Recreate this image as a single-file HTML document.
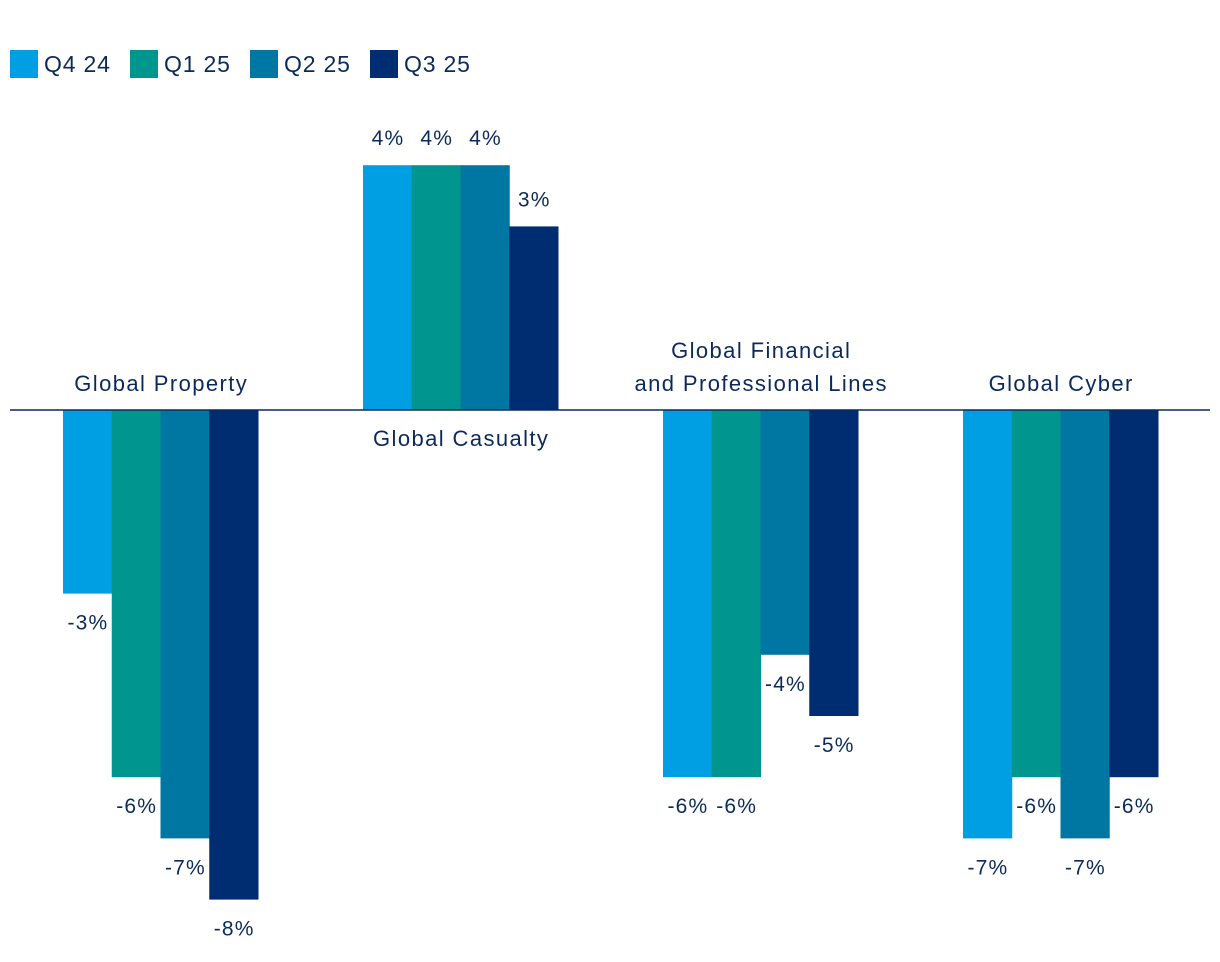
<!DOCTYPE html>
<html><head><meta charset="utf-8"><style>
html,body{margin:0;padding:0;background:#fff;}
svg{display:block;font-family:"Liberation Sans",sans-serif;}
</style></head><body>
<svg id="chart" width="1220" height="962" viewBox="0 0 1220 962"></svg>
<script>
const categories = [["Global Property"],["Global Casualty"],["Global Financial","and Professional Lines"],["Global Cyber"]];
const seriesNames = ["Q4 24","Q1 25","Q2 25","Q3 25"];
const q424 = [-3,4,-6,-7];
const q125 = [-6,4,-6,-6];
const q225 = [-7,4,-4,-7];
const q325 = [-8,3,-5,-6];
const colors = ["#009fe3","#00968f","#0076a3","#002d72"];
const series = [q424,q125,q225,q325];
const NS="http://www.w3.org/2000/svg";
const svg=document.getElementById('chart');
const ink="#0b2a5b";
const zeroY=410, perUnit=61.2;
const y=v=>zeroY - v*perUnit;
const groupX=i=>63 + i*300;
const barW=48.75;
function mk(t,a){const e=document.createElementNS(NS,t);for(const k in a)e.setAttribute(k,a[k]);svg.appendChild(e);return e;}
// legend
seriesNames.forEach((n,i)=>{
  const r=mk('rect',{x:10+i*120,y:50,width:28,height:28,fill:colors[i]});
  
  
  const t=mk('text',{x:44+i*120,y:72,'font-size':23,fill:ink,'letter-spacing':0.8});
  t.textContent=n;
  
  
});
// bars
series.forEach((s,si)=>{
  s.forEach((v,ci)=>{
    const x=groupX(ci)+si*barW;
    const top=Math.min(y(v),zeroY), h=Math.abs(y(v)-zeroY);
    const r=mk('rect',{x:x,y:top,width:barW+0.5,height:h,fill:colors[si]});
    
    
    const ly = v>=0 ? y(v)-20 : y(v)+36;
    const t=mk('text',{x:x+barW/2+0.6,y:ly,'font-size':21,fill:ink,'text-anchor':'middle','letter-spacing':1.2});
    t.textContent=v+'%';
    
    
  });
});
// zero line
const zl=mk('line',{x1:10,x2:1210,y1:zeroY,y2:zeroY,stroke:ink,'stroke-width':1.5});


// category labels
categories.forEach((lines,ci)=>{
  const cx=groupX(ci)+2*barW;
  const allPos=series.every(s=>s[ci]>=0);
  lines.forEach((ln,li)=>{
    const base = allPos ? zeroY+36+li*33 : zeroY-19-(lines.length-1-li)*33;
    const t=mk('text',{x:cx+0.7,y:base,'font-size':22,fill:ink,'text-anchor':'middle','letter-spacing':1.4});
    t.textContent=ln;
    
    
  });
});
</script>
</body></html>
